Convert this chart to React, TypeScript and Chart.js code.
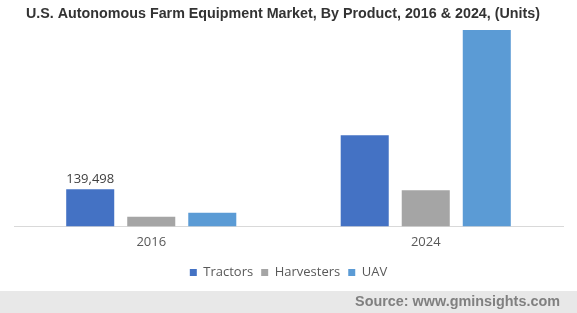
import React, { useEffect, useRef } from "react";
import { Chart, registerables } from "chart.js";

Chart.register(...registerables);

const categories = ["2016", "2024"];
const seriesNames = ["Tractors", "Harvesters", "UAV"];
const tractors = [139498, 343000];
const harvesters = [36000, 136000];
const uav = [51000, 739000];
const colors = ["#4472C4", "#A5A5A5", "#5B9BD5"];
const titleText = "U.S. Autonomous Farm Equipment Market, By Product, 2016 & 2024, (Units)";
const sourceText = "Source: www.gminsights.com";
const labelValue = "139,498";

const extras = {
  id: "extras",
  beforeDraw(chart: any) {
    const ctx = chart.ctx;
    ctx.save();
    ctx.fillStyle = "#ffffff";
    ctx.fillRect(0, 0, chart.width, chart.height);
    ctx.restore();
  },
  afterDraw(chart: any) {
    const ctx = chart.ctx;
    ctx.save();
    // title
    ctx.font = "bold 14.3px 'Liberation Sans', Arial, sans-serif";
    ctx.fillStyle = "#333333";
    ctx.textAlign = "center";
    ctx.textBaseline = "middle";
    ctx.fillText(titleText, 283, 14);
    // footer
    ctx.fillStyle = "#e8e8e8";
    ctx.fillRect(0, 291, chart.width, chart.height - 291);
    ctx.font = "bold 14.4px 'Liberation Sans', Arial, sans-serif";
    ctx.fillStyle = "#808080";
    ctx.textAlign = "right";
    ctx.textBaseline = "middle";
    ctx.fillText(sourceText, 560, 302.5);
    // data label
    const meta = chart.getDatasetMeta(0);
    const bar = meta.data[0];
    if (bar) {
      ctx.font = "13px 'Open Sans', sans-serif";
      ctx.fillStyle = "#404040";
      ctx.textAlign = "center";
      ctx.textBaseline = "bottom";
      ctx.fillText(labelValue, bar.x, bar.y - 4);
    }
    ctx.restore();
  },
};

export default function App() {
  const ref = useRef<HTMLCanvasElement>(null);
  useEffect(() => {
    if (!ref.current) return;
    const chart = new Chart(ref.current, {
      type: "bar",
      data: {
        labels: categories,
        datasets: [tractors, harvesters, uav].map((d, i) => ({
          label: seriesNames[i],
          data: d,
          backgroundColor: colors[i],
          borderWidth: 0,
          barPercentage: 0.787,
          categoryPercentage: 0.667,
        })),
      },
      options: {
        responsive: false,
        animation: false,
        layout: { padding: { left: 14, right: 14, top: 26, bottom: 24 } },
        plugins: {
          title: { display: false },
          tooltip: { enabled: false },
          legend: {
            position: "bottom",
            labels: {
              boxWidth: 7,
              boxHeight: 7,
              padding: 8,
              color: "#595959",
              font: { family: "'Open Sans', sans-serif", size: 13 },
            },
          },
        },
        scales: {
          x: {
            grid: { display: false, drawTicks: false },
            border: { display: true, color: "#d9d9d9", width: 1 },
            ticks: {
              padding: 8,
              color: "#595959",
              font: { family: "'Open Sans', sans-serif", size: 13 },
            },
          },
          y: {
            display: false,
            min: 0,
            max: 754000,
          },
        },
      },
      plugins: [extras],
    });
    return () => chart.destroy();
  }, []);
  return (
    <div style={{ position: "absolute", left: 0, top: 0, width: 577, height: 313 }}>
      <canvas ref={ref} width={577} height={313} style={{ display: "block" }} />
    </div>
  );
}
